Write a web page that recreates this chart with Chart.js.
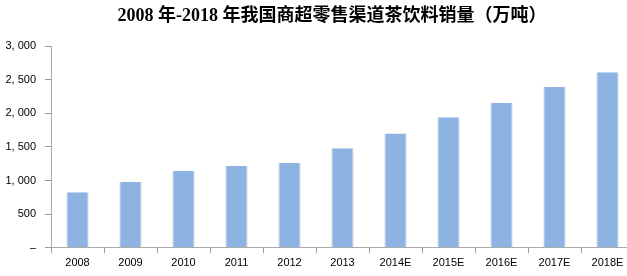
<!DOCTYPE html>
<html>
<head>
<meta charset="utf-8">
<script src="https://cdn.jsdelivr.net/npm/chart.js@4/dist/chart.umd.min.js"></script>
<style>
    html, body { margin: 0; padding: 0; background: #fff; overflow: hidden; }
    #wrap { position: relative; width: 634px; height: 276px; }
    #title {
        position: absolute; left: 0; top: 4px; width: 664px;
        text-align: center; white-space: nowrap;
        font: bold 18px "Liberation Serif", "Noto Sans CJK SC";
        line-height: 22px; color: #000;
    }
</style>
</head>
<body>
<div id="wrap">
    <canvas id="myChart" width="634" height="276"></canvas>
    <div id="title">2008 年-2018 年我国商超零售渠道茶饮料销量（万吨）</div>
</div>
<script>
const years = ['2008', '2009', '2010', '2011', '2012', '2013', '2014E', '2015E', '2016E', '2017E', '2018E'];
const salesVolume = [825, 980, 1140, 1215, 1260, 1480, 1700, 1940, 2155, 2390, 2610];
const yTicks = [0, 500, 1000, 1500, 2000, 2500, 3000];

function formatTick(value) {
    if (value === 0) return '–';
    return value.toLocaleString('en-US').replace(',', ', ');
}

const ctx = document.getElementById('myChart').getContext('2d');

new Chart(ctx, {
    type: 'bar',
    data: {
        labels: years,
        datasets: [{
            data: salesVolume,
            backgroundColor: '#8db3e2',
            borderColor: 'rgba(210, 210, 210, 0.9)',
            borderWidth: { left: 1, right: 1, top: 0, bottom: 0 },
            barPercentage: 0.42,
            categoryPercentage: 1.0
        }]
    },
    options: {
        responsive: false,
        animation: false,
        layout: {
            padding: { left: 0, right: 0, top: 46, bottom: 2 }
        },
        plugins: {
            legend: { display: false },
            tooltip: { enabled: false },
            title: { display: false }
        },
        scales: {
            x: {
                grid: {
                    display: true,
                    drawOnChartArea: false,
                    offset: true,
                    tickLength: 5,
                    color: '#999'
                },
                border: { color: '#aaa' },
                ticks: {
                    color: '#000',
                    font: { family: '"Liberation Sans", Arial', size: 11 },
                    padding: 4,
                    maxRotation: 0,
                    autoSkip: false
                }
            },
            y: {
                min: 0,
                max: 3000,
                afterBuildTicks: function(axis) {
                    axis.ticks = yTicks.map(v => ({ value: v }));
                },
                afterFit: function(axis) {
                    axis.width = 51;
                },
                grid: {
                    display: true,
                    drawOnChartArea: false,
                    tickLength: 6,
                    color: '#999'
                },
                border: { color: '#aaa' },
                ticks: {
                    color: '#000',
                    font: { family: '"Liberation Sans", Arial', size: 11 },
                    padding: 9,
                    callback: function(value) {
                        return formatTick(value);
                    }
                }
            }
        }
    }
});
</script>
</body>
</html>
